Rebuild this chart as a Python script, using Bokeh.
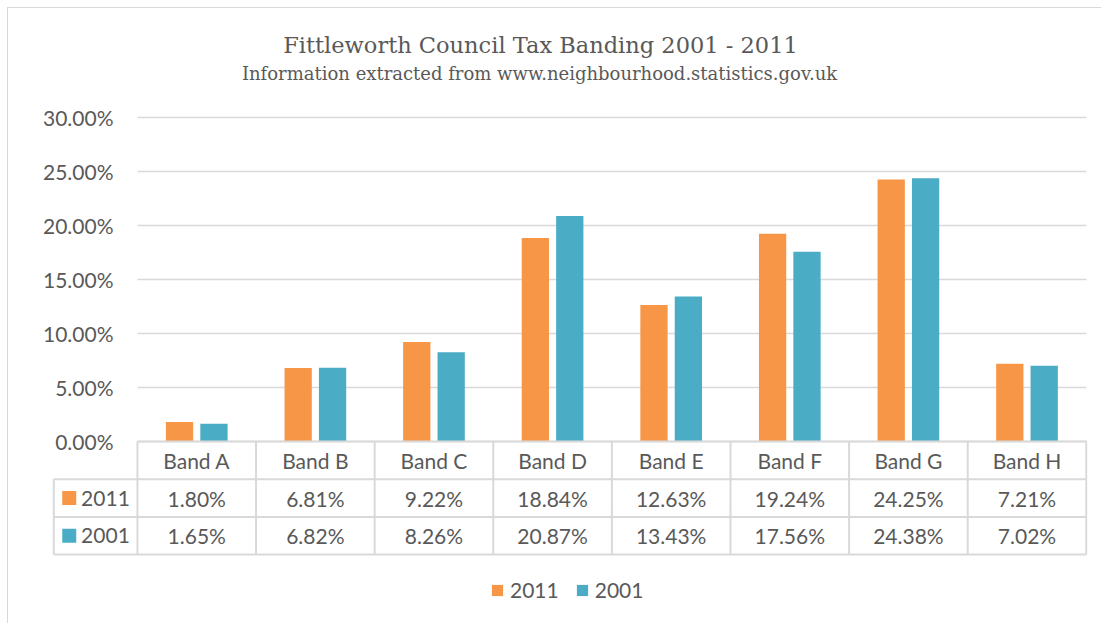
from bokeh.plotting import figure
from bokeh.models import (FixedTicker, PrintfTickFormatter, ColumnDataSource, Range1d,
                          Legend, LegendItem)
from bokeh.transform import dodge
from bokeh.core.properties import value
from bokeh.embed import file_html
from bokeh.resources import INLINE

# ---------------- data ----------------
bands = ["Band A", "Band B", "Band C", "Band D", "Band E", "Band F", "Band G", "Band H"]
values_2011 = [1.80, 6.81, 9.22, 18.84, 12.63, 19.24, 24.25, 7.21]
values_2001 = [1.65, 6.82, 8.26, 20.87, 13.43, 17.56, 24.38, 7.02]
series_names = ["2011", "2001"]
series_colors = ["#F79646", "#4BACC6"]
y_ticks = [0, 5, 10, 15, 20, 25, 30]
title_text = "Fittleworth Council Tax Banding 2001 - 2011"
subtitle_text = "Information extracted from www.neighbourhood.statistics.gov.uk"

TEXT = "#595959"
GRID = "#d9d9d9"
FONT = "Lato"
SERIF = "DejaVu Serif"
FS = "21px"

# ---------------- layout constants ----------------
W, H = 1094, 616
ROW_H = 3.49          # table row height in data units
X0, X1 = -0.733, 8.01
Y0, Y1 = -15.83, 38.98

p = figure(width=W, height=H, output_backend="svg", toolbar_location=None,
           x_range=Range1d(X0, X1), y_range=Range1d(Y0, Y1),
           x_axis_location=None, min_border_left=42, min_border_right=15,
           min_border_top=12, min_border_bottom=12)
p.styles = {"border-left": "1px solid #d9d9d9", "border-top": "1px solid #d9d9d9",
            "margin-left": "7px", "margin-top": "7px"}
p.outline_line_color = None
p.background_fill_color = "white"
p.border_fill_color = "white"
p.xgrid.visible = False

# y axis
yax = p.yaxis[0]
yax.ticker = FixedTicker(ticks=y_ticks)
yax.formatter = PrintfTickFormatter(format="%.2f%%")
yax.axis_line_color = None
yax.major_tick_line_color = None
yax.minor_tick_line_color = None
yax.major_tick_out = 0
yax.major_tick_in = 0
yax.major_label_standoff = -63
yax.major_label_text_font = FONT
yax.major_label_text_font_size = FS
yax.major_label_text_color = TEXT

p.ygrid.ticker = FixedTicker(ticks=y_ticks)
p.ygrid.grid_line_color = GRID
p.ygrid.grid_line_width = 1.5
try:
    p.ygrid.cross_bounds = (0, len(bands))
except Exception:
    pass

# ---------------- bars ----------------
xs = [i + 0.5 for i in range(len(bands))]
src = ColumnDataSource(dict(x=xs, band=bands, v2011=values_2011, v2001=values_2001))
r1 = p.vbar(x=dodge("x", -0.145, range=p.x_range), top="v2011", width=0.23, source=src,
            fill_color=series_colors[0], line_color=None)
r2 = p.vbar(x=dodge("x", 0.145, range=p.x_range), top="v2001", width=0.23, source=src,
            fill_color=series_colors[1], line_color=None)

# ---------------- data table ----------------
n = len(bands)
left_col = -0.705
row_tops = [0, -ROW_H, -2 * ROW_H, -3 * ROW_H]
hx0 = [0] + [left_col] * 3
hx1 = [n] * 4
p.segment(x0=hx0, y0=row_tops, x1=hx1, y1=row_tops, line_color=GRID, line_width=2)
vx = list(range(n + 1))
p.segment(x0=vx, y0=[0] * len(vx), x1=vx, y1=[row_tops[-1]] * len(vx),
          line_color=GRID, line_width=2)
p.segment(x0=[left_col], y0=[row_tops[1]], x1=[left_col], y1=[row_tops[-1]],
          line_color=GRID, line_width=2)

p.text(x=xs, y=[-ROW_H / 2] * n, text=bands, text_align="center", text_baseline="middle",
       text_font=value(FONT), text_font_size=FS, text_color=TEXT)
for k, vals in enumerate([values_2011, values_2001]):
    yc = -ROW_H * (k + 1.5)
    p.text(x=xs, y=[yc] * n, text=[f"{v:.2f}%" for v in vals], text_align="center",
           text_baseline="middle", text_font=value(FONT), text_font_size=FS,
           text_color=TEXT)
    p.scatter(x=[-0.575], y=[yc], marker="square", size=14, fill_color=series_colors[k],
              line_color=None)
    p.text(x=[-0.475], y=[yc], text=[series_names[k]], text_align="left",
           text_baseline="middle", text_font=value(FONT), text_font_size=FS,
           text_color=TEXT)

# ---------------- titles ----------------
p.text(x=[3.398], y=[36.7], text=[title_text], text_align="center", text_baseline="middle",
       text_font=value(SERIF), text_font_size="22.5px", text_color=TEXT)
p.text(x=[3.39], y=[34.05], text=[subtitle_text], text_align="center",
       text_baseline="middle", text_font=value(SERIF), text_font_size="18px",
       text_color=TEXT)

# ---------------- legend ----------------
legend = Legend(items=[LegendItem(label=series_names[0], renderers=[r1]),
                       LegendItem(label=series_names[1], renderers=[r2])],
                orientation="horizontal", location=(440, 10))
legend.border_line_color = None
legend.background_fill_color = None
legend.padding = 0
legend.margin = 0
legend.spacing = 16
legend.glyph_width = 14
legend.glyph_height = 14
legend.label_standoff = 6
legend.label_text_font = FONT
legend.label_text_font_size = FS
legend.label_text_color = TEXT
p.add_layout(legend, "center")

open("out.html", "w").write(file_html(p, INLINE))
